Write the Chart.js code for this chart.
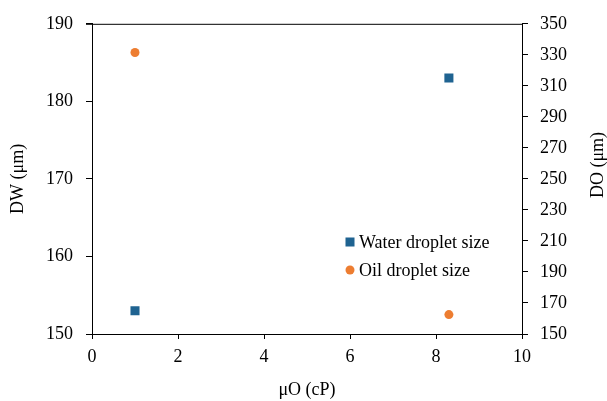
<!DOCTYPE html>
<html>
<head>
<meta charset="utf-8">
<script src="https://cdn.jsdelivr.net/npm/chart.js@4"></script>
<style>
	body { margin: 0; background: #fff; }
	#wrap { width: 607px; height: 401px; }
</style>
</head>
<body>
<div id="wrap"><canvas id="mycanvas"></canvas></div>
<script>
// data
var viscosity = [1, 8.3];
var waterSize = [153, 183];
var oilSize = [331.5, 162.5];
var xTicks = [0, 2, 4, 6, 8, 10];
var seriesNames = ["Water droplet size", "Oil droplet size"];
var rightTitle = "DO (μm)";

var FONT = "'Liberation Serif', 'Times New Roman', serif";

function pts(xs, ys) {
	var out = [];
	for (var i in xs) out.push({x: xs[i], y: ys[i]});
	return out;
}

// top edge of the box, legend inside, right title (reads bottom-up)
var framePlugin = {
	id: "frame",
	afterDatasetsDraw: function(chart) {
		var ctx = chart.ctx, a = chart.chartArea;
		ctx.save();
		ctx.strokeStyle = "#000";
		ctx.lineWidth = 1;
		ctx.beginPath();
		ctx.moveTo(a.left - 6, a.top + 0.5);
		ctx.lineTo(a.right, a.top + 0.5);
		ctx.stroke();
		// legend
		var lx = 350, ly = 242;
		ctx.font = "18px " + FONT;
		ctx.textBaseline = "middle";
		chart.data.datasets.forEach(function(ds, i) {
			var y = ly + i * 28;
			ctx.fillStyle = ds.backgroundColor;
			if (ds.pointStyle === "rect") {
				ctx.fillRect(lx - 4.5, y - 4.5, 9, 9);
			} else {
				ctx.beginPath();
				ctx.arc(lx, y, 4.5, 0, Math.PI * 2);
				ctx.fill();
			}
			ctx.fillStyle = "#000";
			ctx.fillText(ds.label, lx + 9, y + 1);
		});
		// right axis title
		ctx.translate(598, 165);
		ctx.rotate(-Math.PI / 2);
		ctx.textAlign = "center";
		ctx.fillText(rightTitle, 0, 0);
		ctx.restore();
	}
};

var axisCommon = {
	border: { display: true, color: "#000", width: 1 },
	grid: { display: true, drawOnChartArea: false, drawTicks: true, tickLength: 6, color: "#000" },
	ticks: { color: "#000", font: { family: FONT, size: 18 }, padding: 12 },
	title: { display: true, color: "#000", font: { family: FONT, size: 18 } }
};

function axis(extra) {
	var o = JSON.parse(JSON.stringify(axisCommon));
	for (var k in extra) {
		if (typeof extra[k] === "object" && o[k]) Object.assign(o[k], extra[k]);
		else o[k] = extra[k];
	}
	return o;
}

var ctx = document.getElementById("mycanvas");
var chart = new Chart(ctx, {
	type: "scatter",
	data: {
		datasets: [
			{
				label: seriesNames[0],
				data: pts(viscosity, waterSize),
				yAxisID: "y",
				pointStyle: "rect",
				pointRadius: 6.4,
				backgroundColor: "#1f6391",
				borderColor: "#1f6391",
				borderWidth: 0
			},
			{
				label: seriesNames[1],
				data: pts(viscosity, oilSize),
				yAxisID: "y1",
				pointStyle: "circle",
				pointRadius: 4.5,
				backgroundColor: "#ed7d31",
				borderColor: "#ed7d31",
				borderWidth: 0
			}
		]
	},
	options: {
		responsive: true,
		maintainAspectRatio: false,
		animation: false,
		layout: { padding: { top: 22, left: 0, right: 0, bottom: 0 } },
		plugins: { legend: { display: false }, tooltip: { enabled: false } },
		scales: {
			x: axis({
				type: "linear", min: 0, max: 10,
				grid: { tickLength: 5 },
				ticks: { padding: 7 },
				afterBuildTicks: function(s) { s.ticks = xTicks.map(function(v) { return {value: v}; }); },
				afterFit: function(s) { s.height = 67; },
				title: { text: "μO (cP)", padding: { top: 4, bottom: 0 } }
			}),
			y: axis({
				type: "linear", position: "left", min: 150, max: 190,
				ticks: { stepSize: 10, padding: 13 },
				afterFit: function(s) { s.width = 92; },
				title: { text: "DW (μm)", padding: { top: 7, bottom: 0 } }
			}),
			y1: axis({
				type: "linear", position: "right", min: 150, max: 350,
				ticks: { stepSize: 20 },
				afterFit: function(s) { s.width = 85; },
				title: { display: false }
			})
		}
	},
	plugins: [framePlugin]
});
</script>
</body>
</html>
